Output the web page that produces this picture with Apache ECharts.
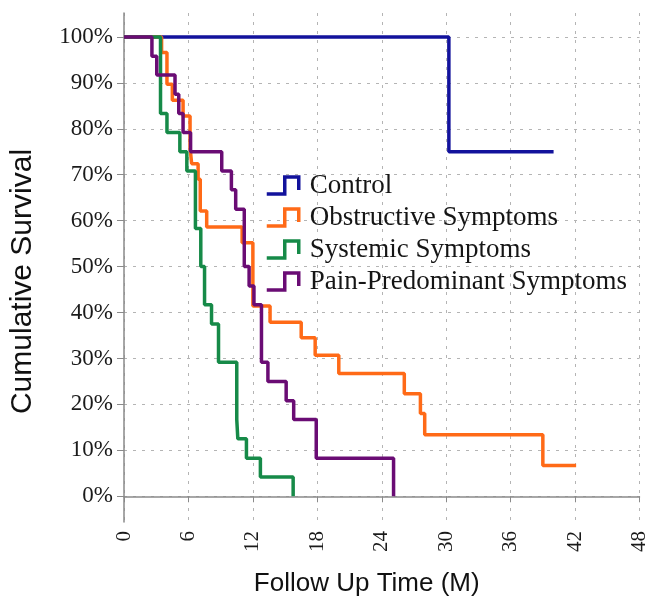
<!DOCTYPE html>
<html>
<head>
<meta charset="utf-8">
<title>Cumulative Survival</title>
<script src="https://cdn.jsdelivr.net/npm/echarts@6/dist/echarts.min.js"></script>
<style>
html, body { margin: 0; padding: 0; background: #fff; }
#chart { width: 650px; height: 602px; }
</style>
</head>
<body>
<div id="chart"></div>
<script>
// Kaplan-Meier steps: time in months, survival in %
const groupNames = ['Control', 'Obstructive Symptoms', 'Systemic Symptoms', 'Pain-Predominant Symptoms'];
const groupColors = ['#12129c', '#ff6a17', '#168a48', '#6a0c74'];

const controlTime = [0, 30.25, 40];
const controlSurv = [100, 75, 75];

const obstructiveTime = [0, 3.5, 4.0, 4.5, 5.5, 6.15, 6.3, 6.9, 7.1, 7.7, 11.0, 12.0, 13.6, 16.5, 17.8, 20.0, 26.1, 27.6, 28.0, 39.0, 42.1];
const obstructiveSurv = [100, 96.6, 89.7, 86.2, 82.8, 75.9, 72.4, 69.0, 62.1, 58.6, 55.2, 41.4, 37.9, 34.5, 30.7, 26.7, 22.3, 18.0, 13.4, 6.7, 6.7];

const systemicTime = [0, 3.4, 4.0, 5.2, 5.85, 6.65, 7.15, 7.5, 8.15, 8.8, 10.5, 10.6, 11.4, 12.7, 15.75];
const systemicSurv = [100, 83.3, 79.2, 75.0, 70.8, 58.3, 50.0, 41.7, 37.5, 29.2, 16.7, 12.5, 8.3, 4.2, 0];

const painTime = [0, 2.6, 3.05, 4.75, 5.1, 5.5, 6.2, 9.1, 10.0, 10.4, 11.2, 11.65, 12.1, 12.8, 13.4, 15.1, 15.8, 17.9, 25.1];
const painSurv = [100, 95.8, 91.7, 87.5, 83.3, 79.2, 75.0, 70.8, 66.7, 62.5, 50.0, 45.8, 41.7, 29.2, 25.0, 20.8, 16.7, 8.3, 0];

const yTicks = [0, 10, 20, 30, 40, 50, 60, 70, 80, 90, 100];

const groupTimes = [controlTime, obstructiveTime, systemicTime, painTime];
const groupSurvs = [controlSurv, obstructiveSurv, systemicSurv, painSurv];

const zip = (xs, ys) => xs.map((x, i) => [x, ys[i]]);

const gridLine = { show: true, lineStyle: { color: '#b4b4b4', type: [3, 6], width: 1 } };
const axisGray = '#8a8a8a';

const chart = echarts.init(document.getElementById('chart'));

chart.setOption({
    animation: false,
    backgroundColor: '#fff',
    grid: { left: 122, right: 10, top: 13, bottom: 78 },
    legend: {
        orient: 'vertical',
        left: 260,
        top: 167,
        itemWidth: 32,
        itemHeight: 17,
        itemGap: 5,
        icon: 'path://M0,17 L18,17 L18,0 L32,0 L32,13',
        data: groupNames.map((name, i) => ({
            name: name,
            itemStyle: { color: 'transparent', borderColor: groupColors[i], borderWidth: 3.5 }
        })),
        textStyle: {
            fontFamily: 'Liberation Serif',
            fontSize: 27,
            color: '#151515',
            padding: [0, 0, 0, 6]
        }
    },
    xAxis: {
        type: 'value',
        min: 0,
        max: 48,
        interval: 6,
        name: 'Follow Up Time (M)',
        nameLocation: 'middle',
        nameGap: 49,
        nameTextStyle: {
            fontFamily: 'Liberation Sans',
            fontSize: 26,
            color: '#111',
            padding: [0, 30, 0, 0]
        },
        axisLine: { show: true, lineStyle: { color: axisGray, width: 1.5 } },
        axisTick: { show: true, length: 6, lineStyle: { color: axisGray } },
        axisLabel: {
            rotate: 90,
            margin: 9,
            fontFamily: 'Liberation Serif',
            fontSize: 21,
            color: '#1a1a1a'
        },
        splitLine: gridLine
    },
    yAxis: {
        type: 'value',
        min: -5.6,
        max: 105.2,
        name: 'Cumulative Survival',
        nameLocation: 'middle',
        nameGap: 86,
        nameTextStyle: {
            fontFamily: 'Liberation Sans',
            fontSize: 30,
            color: '#111',
            padding: [0, 28, 0, 0]
        },
        axisLine: { show: true, lineStyle: { color: axisGray, width: 1.5 } },
        axisTick: { show: true, length: 7, customValues: yTicks, lineStyle: { color: axisGray } },
        axisLabel: {
            customValues: yTicks,
            formatter: '{value}%',
            margin: 11,
            fontFamily: 'Liberation Serif',
            fontSize: 23,
            color: '#1a1a1a'
        },
        splitLine: gridLine
    },
    series: groupNames.map((name, i) => ({
        name: name,
        type: 'line',
        step: 'end',
        symbol: 'none',
        color: groupColors[i],
        lineStyle: { width: 3.5, color: groupColors[i] },
        data: zip(groupTimes[i], groupSurvs[i])
    }))
});
</script>
</body>
</html>
